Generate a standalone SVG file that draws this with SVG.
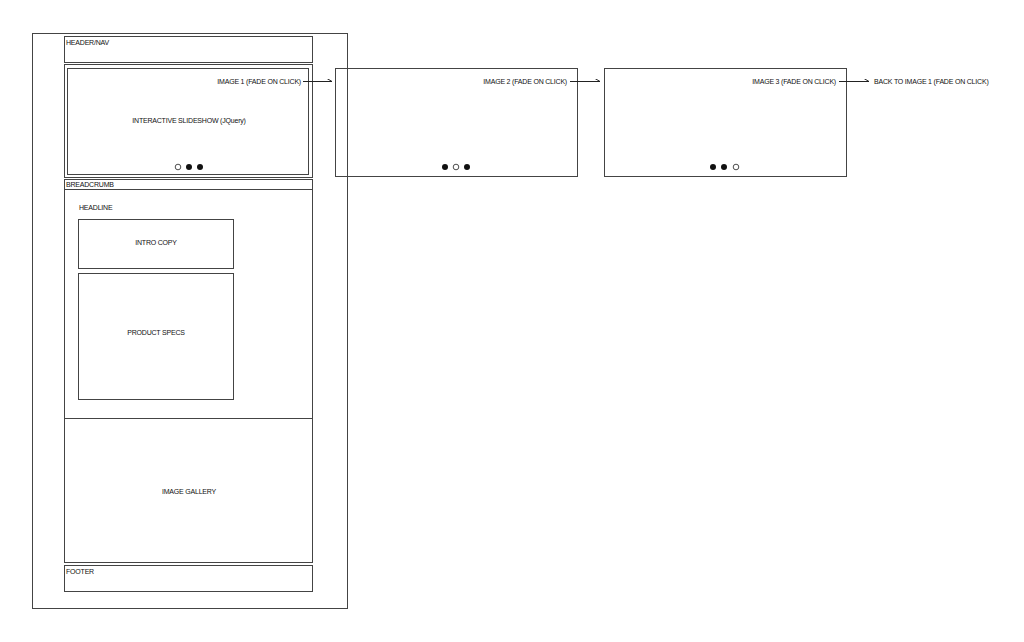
<svg xmlns="http://www.w3.org/2000/svg" width="1024" height="642" viewBox="0 0 1024 642">
<style>
.b{fill:none;stroke:#444;stroke-width:1}
.t{font-family:"Liberation Sans",sans-serif;font-size:7px;letter-spacing:-0.2px;fill:#111}
.c{stroke:#222;stroke-width:1;fill:none}
</style>
<defs><marker id="a" markerWidth="6" markerHeight="6" refX="5" refY="3" orient="auto" markerUnits="userSpaceOnUse"><path d="M0,0 L5,3" stroke="#222" fill="none"/></marker></defs>
<rect width="1024" height="642" fill="#fff"/>
<g id="page"><rect class="b" x="32.5" y="33.5" width="315" height="575"/></g>
<g id="header"><rect class="b" x="64.5" y="36.5" width="248" height="26"/><text class="t" x="66" y="45">HEADER/NAV</text></g>
<g id="slideshow"><rect class="b" x="64.5" y="64.5" width="248" height="113"/><rect class="b" x="67.5" y="68.5" width="241" height="106"/>
<text class="t" x="301" y="84" text-anchor="end">IMAGE 1 (FADE  ON CLICK)</text>
<text class="t" x="189" y="123" text-anchor="middle">INTERACTIVE SLIDESHOW (JQuery)</text>
<circle cx="178" cy="167" r="2.8" fill="#fff" stroke="#222" stroke-width="0.8"/><circle cx="189" cy="167" r="3" fill="#111"/><circle cx="200" cy="167" r="3" fill="#111"/></g>
<g id="breadcrumb"><rect class="b" x="64.5" y="179.5" width="248" height="10"/><text class="t" x="66" y="187">BREADCRUMB</text></g>
<g id="content"><rect class="b" x="64.5" y="189.5" width="248" height="229"/><text class="t" x="79" y="210">HEADLINE</text></g>
<g id="intro"><rect class="b" x="78.5" y="219.5" width="155" height="49"/><text class="t" x="156" y="245" text-anchor="middle">INTRO COPY</text></g>
<g id="specs"><rect class="b" x="78.5" y="273.5" width="155" height="126"/><text class="t" x="156" y="335" text-anchor="middle">PRODUCT SPECS</text></g>
<g id="gallery"><rect class="b" x="64.5" y="418.5" width="248" height="144"/><text class="t" x="189" y="494" text-anchor="middle">IMAGE GALLERY</text></g>
<g id="footer"><rect class="b" x="64.5" y="565.5" width="248" height="26"/><text class="t" x="66" y="574">FOOTER</text></g>
<g id="image2"><rect class="b" x="335.5" y="68.5" width="242" height="108"/><text class="t" x="567" y="84" text-anchor="end">IMAGE 2 (FADE  ON CLICK)</text>
<circle cx="445" cy="167" r="3" fill="#111"/><circle cx="456" cy="167" r="2.8" fill="#fff" stroke="#222" stroke-width="0.8"/><circle cx="467" cy="167" r="3" fill="#111"/></g>
<g id="image3"><rect class="b" x="604.5" y="68.5" width="242" height="108"/><text class="t" x="836" y="84" text-anchor="end">IMAGE 3 (FADE  ON CLICK)</text>
<circle cx="713" cy="167" r="3" fill="#111"/><circle cx="724" cy="167" r="3" fill="#111"/><circle cx="736" cy="167" r="2.8" fill="#fff" stroke="#222" stroke-width="0.8"/></g>
<g id="back"><text class="t" x="874" y="84">BACK TO IMAGE 1 (FADE  ON CLICK)</text></g>
<g id="connectors">
<path class="c" d="M303,81.5 H332" marker-end="url(#a)"/>
<path class="c" d="M570,81.5 H600" marker-end="url(#a)"/>
<path class="c" d="M839,81.5 H869" marker-end="url(#a)"/>
</g>
</svg>
